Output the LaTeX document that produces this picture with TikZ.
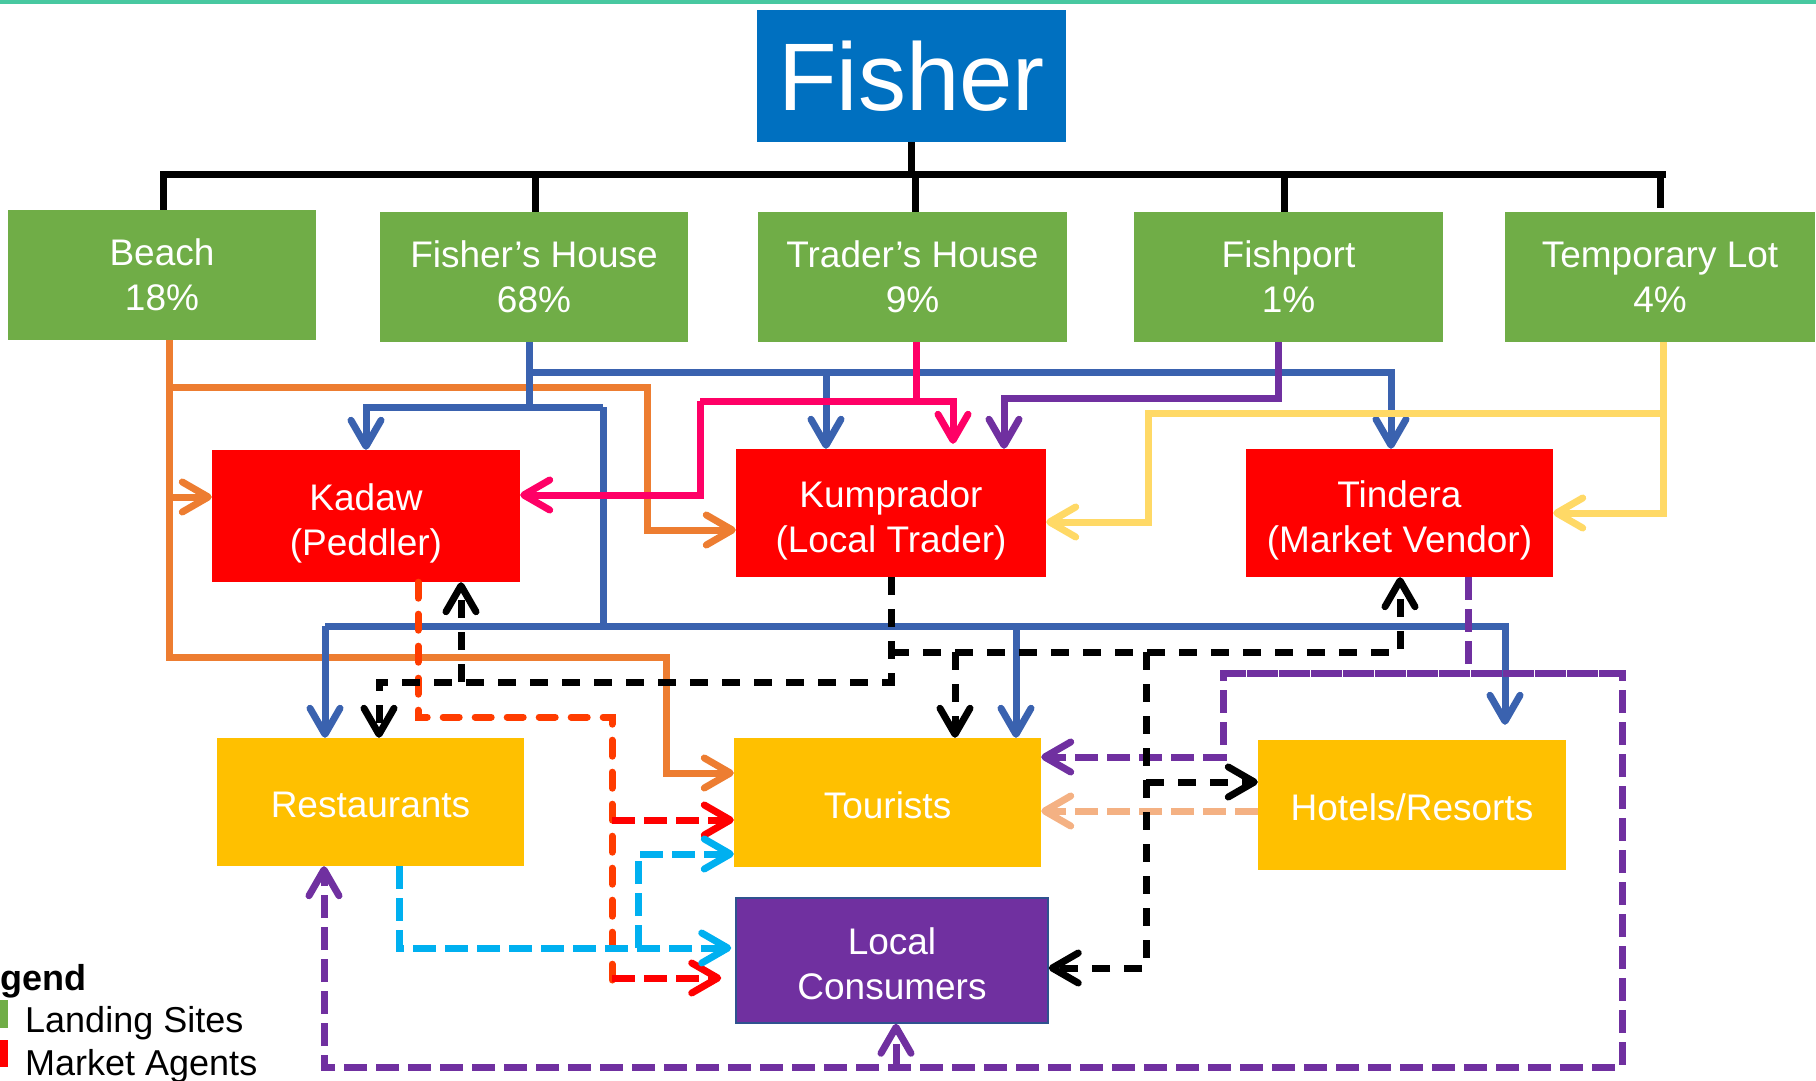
\documentclass[tikz,border=0pt]{standalone}
\usepackage{fontspec}
\setmainfont{Liberation Sans}
\usetikzlibrary{arrows.meta}
\definecolor{tealc}{RGB}{72,200,160}
\definecolor{fisherblue}{RGB}{0,112,192}
\definecolor{lgreen}{RGB}{112,173,71}
\definecolor{agentred}{RGB}{255,0,0}
\definecolor{gold}{RGB}{255,192,0}
\definecolor{consumerpurple}{RGB}{112,48,160}
\definecolor{lcborder}{RGB}{47,82,143}
\definecolor{orangeln}{RGB}{237,125,49}
\definecolor{blueln}{RGB}{58,98,175}
\definecolor{pinkln}{RGB}{255,0,102}
\definecolor{purpleln}{RGB}{112,48,160}
\definecolor{yellowln}{RGB}{255,217,102}
\definecolor{redorange}{RGB}{255,60,0}
\definecolor{redln}{RGB}{255,0,0}
\definecolor{cyanln}{RGB}{0,176,240}
\definecolor{peachln}{RGB}{244,177,131}
\begin{document}
\begin{tikzpicture}[x=1pt,y=-1pt,
  >={Straight Barb[length=26pt,width=30pt,round]},
  box/.style={inner sep=0pt, align=center, text=white, font=\fontsize{37}{45}\selectfont},
  gbox/.style={box, fill=lgreen, minimum width=308pt, minimum height=130pt},
  rbox/.style={box, fill=agentred, minimum width=308pt, minimum height=130pt, text height=78.5pt, text depth=0pt},
  ybox/.style={box, fill=gold, minimum width=307pt, minimum height=128pt, text height=31.5pt, text depth=0pt},
  tree/.style={line width=7pt, draw=black},
  sol/.style={line width=7pt, line join=miter},
  dsh/.style={line width=7pt, dash pattern=on 23pt off 9pt},
  rdsh/.style={line width=7pt, line cap=round, dash pattern=on 16pt off 16pt},
  bdsh/.style={line width=7pt, dash pattern=on 18pt off 14pt},
  legtext/.style={anchor=base west, inner sep=0pt, font=\fontsize{36}{40}\selectfont}]
\useasboundingbox (0,0) rectangle (1816,1081);
\fill[tealc] (0,0) rectangle (1816,4);

% nodes
\node[box, fill=fisherblue, minimum width=309pt, minimum height=132pt, font=\fontsize{96}{100}\selectfont] (fisher) at (911.5,76) {Fisher};
\node[gbox] (beach) at (162,275) {Beach\\18\%};
\node[gbox] (fhouse) at (534,277) {Fisher’s House\\68\%};
\node[gbox, minimum width=309pt] (thouse) at (912.5,277) {Trader’s House\\9\%};
\node[gbox, minimum width=309pt] (fishport) at (1288.5,277) {Fishport\\1\%};
\node[gbox, minimum width=310pt] (templot) at (1660,277) {Temporary Lot\\4\%};

\node[rbox, minimum height=132pt] (kadaw) at (366,516) {Kadaw\\(Peddler)};
\node[rbox, minimum width=310pt, minimum height=128pt] (kumprador) at (891,513) {Kumprador\\(Local Trader)};
\node[rbox, minimum width=307pt, minimum height=128pt] (tindera) at (1399.5,513) {Tindera\\(Market Vendor)};

\node[ybox] (restaurants) at (370.5,802) {Restaurants};
\node[ybox, minimum height=129pt] (tourists) at (887.5,802.5) {Tourists};
\node[ybox, minimum width=308pt, minimum height=130pt] (hotels) at (1412,805) {Hotels/Resorts};
\node[box, fill=consumerpurple, draw=lcborder, line width=1.5pt, minimum width=312pt, minimum height=125pt, text height=77.5pt, text depth=0pt] (localc) at (892,960.5) {Local\\Consumers};

% legend
\node[legtext, font=\bfseries\fontsize{36}{40}\selectfont] (legend) at (-42,990) {Legend};
\fill[lgreen] (-20,1000) rectangle (8,1028);
\fill[agentred] (-20,1040) rectangle (8,1067);
\node[legtext] (lsites) at (25,1032) {Landing Sites};
\node[legtext] (magents) at (25,1075) {Market Agents};

% tree
\draw[tree] (fisher.south) -- (fisher.south |- 0,174);
\draw[tree] (160,174) -- (1666,174);
\draw[tree] (163,174) -- (163,0 |- beach.north);
\draw[tree] (535,174) -- (535,0 |- fhouse.north);
\draw[tree] (915,174) -- (915,0 |- thouse.north);
\draw[tree] (1284,174) -- (1284,0 |- fishport.north);
\draw[tree] (1660,174) -- (1660,208);

% orange (Beach)
\draw[sol, orangeln, ->] (169,0 |- beach.south) -- (169,657) -- (666,657) -- (666,773) -- (tourists.west |- 0,773);
\draw[sol, orangeln, ->] (169,387) -- (647,387) -- (647,530) -- (kumprador.west |- 0,530);
\draw[sol, orangeln, ->] (169,497) -- (kadaw.west |- 0,497);

% blue (Fisher's House)
\draw[sol, blueln] (529,0 |- fhouse.south) -- (529,407);
\draw[sol, blueln, ->] (529,372) -- (1391,372) -- (1391,0 |- tindera.north);
\draw[sol, blueln, ->] (826,372) -- (826,0 |- kumprador.north);
\draw[sol, blueln, ->] (603,407) -- (366,407) -- (kadaw.north);
\draw[sol, blueln] (603,407) -- (603,626);
\draw[sol, blueln, ->] (1016,626) -- (1016,0 |- tourists.north);
\draw[sol, blueln, ->] (325,626) -- (1505,626) -- ([yshift=15pt]1505,0 |- hotels.north);
\draw[sol, blueln, ->] (325,626) -- (325,0 |- restaurants.north);

% pink (Trader's House)
\draw[sol, pinkln] (916,0 |- thouse.south) -- (916,401);
\draw[sol, pinkln, ->] (700,401) -- (953,401) -- ([yshift=5pt]953,0 |- kumprador.north);
\draw[sol, pinkln, ->] (700,401) -- (700,495) -- (kadaw.east |- 0,495);

% purple (Fishport)
\draw[sol, purpleln, ->] (1278,0 |- fishport.south) -- (1278,398) -- (1004,398) -- (1004,0 |- kumprador.north);

% yellow (Temporary Lot)
\draw[sol, yellowln, ->] (1663,0 |- templot.south) -- (1663,513) -- (tindera.east |- 0,513);
\draw[sol, yellowln, ->] (1663,413) -- (1148,413) -- (1148,522) -- (kumprador.east |- 0,522);

% red-orange / red dashed (Kadaw)
\draw[rdsh, redorange] (418,0 |- kadaw.south) -- (418,717) -- (612,717) -- (612,980);
\draw[dsh, redln, ->] (612,820) -- (tourists.west |- 0,820);
\draw[dsh, redln, ->] (612,978) -- ([xshift=-14pt]localc.west |- 0,978);

% cyan dashed (Restaurants)
\draw[dsh, cyanln, ->] (399,0 |- restaurants.south) -- (399,948) -- ([xshift=-4pt]localc.west |- 0,948);
\draw[dsh, cyanln, ->] (638,948) -- (638,854) -- (tourists.west |- 0,854);

% peach dashed (Hotels)
\draw[dsh, peachln, ->] (hotels.west |- 0,811) -- (tourists.east |- 0,811);

% purple dashed (Tindera)
\draw[dsh, purpleln] (1468,0 |- tindera.south) -- (1468,673);
\draw[dsh, purpleln, ->] (1622,673) -- (1223,673) -- (1223,757) -- (tourists.east |- 0,757);
\draw[dsh, purpleln, ->] (1223,673) -- (1622,673) -- (1622,1067) -- (324,1067) -- (324,0 |- restaurants.south);
\draw[dsh, purpleln, ->] (896,1067) -- (896,0 |- localc.south);

% black dashed (Kumprador)
\draw[bdsh, black, ->] (kumprador.south) -- (891,682) -- (379,682) -- (379,0 |- restaurants.north);
\draw[bdsh, black, ->] (461,682) -- (461,0 |- kadaw.south);
\draw[bdsh, black, ->] (891,652) -- (1400,652) -- (1400,0 |- tindera.south);
\draw[bdsh, black, ->] (955,652) -- (955,0 |- tourists.north);
\draw[bdsh, black, ->] (1146,652) -- (1146,968) -- (localc.east |- 0,968);
\draw[bdsh, black, ->] (1146,782) -- (hotels.west |- 0,782);
\end{tikzpicture}
\end{document}
